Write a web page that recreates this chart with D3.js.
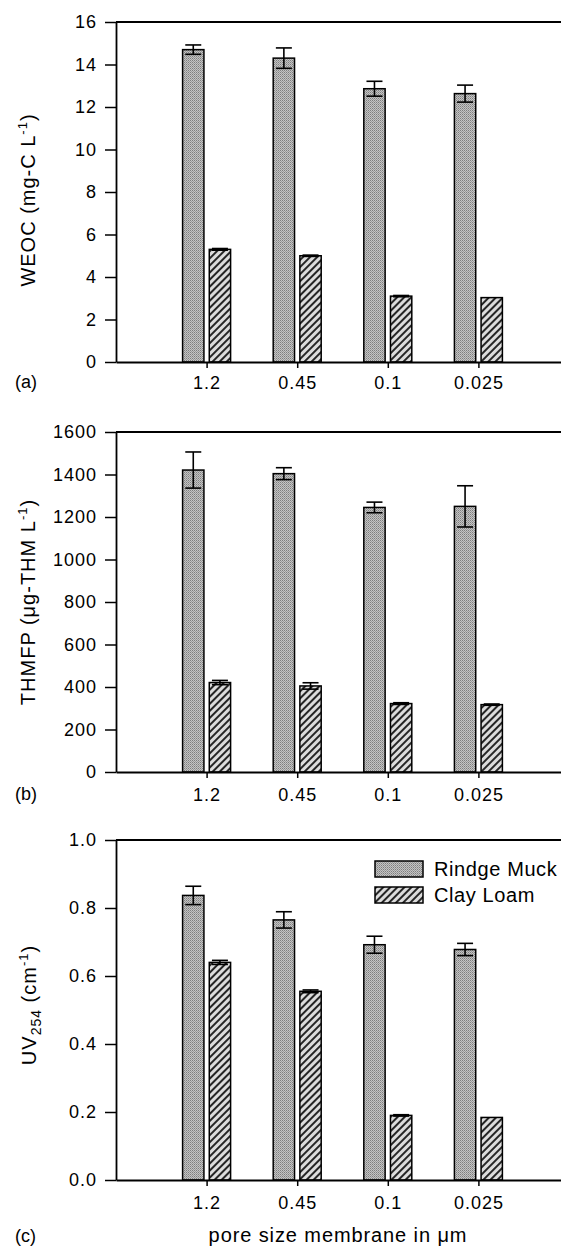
<!DOCTYPE html>
<html><head><meta charset="utf-8">
<script src="https://cdn.jsdelivr.net/npm/d3@7"></script>
<style>body{margin:0;background:#fff}svg{display:block}</style>
</head><body>
<script>
const categories = ["1.2", "0.45", "0.1", "0.025"];
const series = ["Rindge Muck", "Clay Loam"];

const weocRindge = [14.7, 14.3, 12.86, 12.63];
const weocRindgeErr = [0.22, 0.48, 0.35, 0.40];
const weocClay = [5.3, 5.0, 3.1, 3.03];
const weocClayErr = [0.04, 0.03, 0.03, 0.0];

const thmfpRindge = [1421, 1404, 1245, 1250];
const thmfpRindgeErr = [85, 28, 25, 97];
const thmfpClay = [421, 405, 322, 317];
const thmfpClayErr = [10, 15, 4, 3];

const uvRindge = [0.837, 0.765, 0.692, 0.678];
const uvRindgeErr = [0.027, 0.024, 0.025, 0.018];
const uvClay = [0.640, 0.555, 0.190, 0.184];
const uvClayErr = [0.006, 0.004, 0.002, 0.0];

const weocTicks = [0, 2, 4, 6, 8, 10, 12, 14, 16];
const thmfpTicks = [0, 200, 400, 600, 800, 1000, 1200, 1400, 1600];
const uvTicks = [0, 0.2, 0.4, 0.6, 0.8, 1.0];

const W = 561, H = 1248;
const FONT = "'Liberation Sans', Arial, Helvetica, sans-serif";
const svg = d3.select("body").append("svg").attr("width", W).attr("height", H)
  .style("font-family", FONT);

const defs = svg.append("defs");
const dots = defs.append("pattern").attr("id", "dots").attr("patternUnits", "userSpaceOnUse")
  .attr("width", 2).attr("height", 2);
dots.append("rect").attr("width", 2).attr("height", 2).attr("fill", "#c4c4c4");
dots.append("rect").attr("width", 1).attr("height", 1).attr("fill", "#7e7e7e");
dots.append("rect").attr("x", 1).attr("y", 1).attr("width", 1).attr("height", 1).attr("fill", "#9a9a9a");

const hatch = defs.append("pattern").attr("id", "hatch").attr("patternUnits", "userSpaceOnUse")
  .attr("width", 5).attr("height", 5).attr("patternTransform", "rotate(45)");
hatch.append("rect").attr("width", 5).attr("height", 5).attr("fill", "#dcdcdc");
hatch.append("line").attr("x1", 1).attr("x2", 1).attr("y1", 0).attr("y2", 5)
  .attr("stroke", "#111").attr("stroke-width", 1.8);

const fills = { "Rindge Muck": "url(#dots)", "Clay Loam": "url(#hatch)" };

const x = d3.scalePoint().domain(["_l", ...categories, "_r"]).range([116, 569]);
const xs = d3.scaleBand().domain(series).range([-24, 24]).paddingInner(0.2);

function panel(cfg) {
  const g = svg.append("g");
  const y = d3.scaleLinear().domain([0, cfg.max]).range([cfg.top + 340, cfg.top]);

  // bars
  const data = [];
  categories.forEach((c, i) => {
    data.push({ c, s: series[0], v: cfg.r[i], e: cfg.re[i] });
    data.push({ c, s: series[1], v: cfg.cl[i], e: cfg.ce[i] });
  });
  g.selectAll("rect.bar").data(data).join("rect").attr("class", "bar")
    .attr("x", d => x(d.c) + xs(d.s))
    .attr("width", xs.bandwidth())
    .attr("y", d => y(d.v))
    .attr("height", d => y(0) - y(d.v))
    .attr("fill", d => fills[d.s])
    .attr("stroke", "#000").attr("stroke-width", 1.5);

  // error bars
  const eb = g.selectAll("g.err").data(data.filter(d => d.e > 0)).join("g").attr("class", "err")
    .attr("stroke", "#000").attr("stroke-width", 1.6);
  const cx = d => x(d.c) + xs(d.s) + xs.bandwidth() / 2;
  eb.append("line").attr("x1", cx).attr("x2", cx)
    .attr("y1", d => y(d.v + d.e)).attr("y2", d => y(d.v - d.e));
  eb.append("line").attr("x1", d => cx(d) - 8).attr("x2", d => cx(d) + 8)
    .attr("y1", d => y(d.v + d.e)).attr("y2", d => y(d.v + d.e));
  eb.append("line").attr("x1", d => cx(d) - 8).attr("x2", d => cx(d) + 8)
    .attr("y1", d => y(d.v - d.e)).attr("y2", d => y(d.v - d.e));

  // y axis
  const ya = g.append("g").attr("transform", "translate(116,0)")
    .call(d3.axisLeft(y).tickValues(cfg.ticks).tickSize(11).tickSizeOuter(0).tickPadding(8)
      .tickFormat(cfg.fmt));
  // x axis
  const xa = g.append("g").attr("transform", `translate(0,${y(0)})`)
    .call(d3.axisBottom(x).tickValues(categories).tickSize(6).tickSizeOuter(0).tickPadding(cfg.xpad));
  [ya, xa].forEach(a => {
    a.attr("font-family", FONT).attr("font-size", 18);
    a.selectAll("text").attr("fill", "#000").style("letter-spacing", "1px");
    a.selectAll("line").attr("stroke", "#000").attr("stroke-width", 1.5);
    a.select(".domain").attr("stroke", "#000").attr("stroke-width", 1.8);
  });
  // top frame line
  g.append("line").attr("x1", 116).attr("x2", W).attr("y1", y(cfg.max)).attr("y2", y(cfg.max))
    .attr("stroke", "#000").attr("stroke-width", 1.8);

  // panel label
  g.append("text").attr("x", 15).attr("y", cfg.labY).attr("font-size", 18)
    .text(cfg.label);

  // y title
  const t = g.append("text").attr("transform", `translate(${cfg.titleX},${cfg.titleY}) rotate(-90)`)
    .attr("text-anchor", "middle").attr("font-size", 20).style("letter-spacing", "1px");
  cfg.title(t);
  return y;
}

panel({
  top: 22, max: 16, ticks: weocTicks, fmt: d3.format("d"),
  r: weocRindge, re: weocRindgeErr, cl: weocClay, ce: weocClayErr,
  xpad: 8, label: "(a)", labY: 388, titleX: 35, titleY: 200,
  title: t => {
    t.append("tspan").text("WEOC (mg-C L");
    t.append("tspan").attr("dy", -8).attr("font-size", 13).text("-1");
    t.append("tspan").attr("dy", 8).text(")");
  }
});
panel({
  top: 432, max: 1600, ticks: thmfpTicks, fmt: d3.format("d"),
  r: thmfpRindge, re: thmfpRindgeErr, cl: thmfpClay, ce: thmfpClayErr,
  xpad: 10, label: "(b)", labY: 800, titleX: 35, titleY: 602,
  title: t => {
    t.append("tspan").text("THMFP (\u03bcg-THM L");
    t.append("tspan").attr("dy", -8).attr("font-size", 13).text("-1");
    t.append("tspan").attr("dy", 8).text(")");
  }
});
panel({
  top: 840, max: 1.0, ticks: uvTicks, fmt: d3.format(".1f"),
  r: uvRindge, re: uvRindgeErr, cl: uvClay, ce: uvClayErr,
  xpad: 10, label: "(c)", labY: 1242, titleX: 36, titleY: 1005,
  title: t => {
    t.append("tspan").text("UV");
    t.append("tspan").attr("dy", 5).attr("font-size", 14).text("254");
    t.append("tspan").attr("dy", -5).text(" (cm");
    t.append("tspan").attr("dy", -8).attr("font-size", 13).text("-1");
    t.append("tspan").attr("dy", 8).text(")");
  }
});

// x title
svg.append("text").attr("x", 338).attr("y", 1242).attr("text-anchor", "middle")
  .attr("font-size", 20).style("letter-spacing", "0.9px")
  .text("pore size membrane in \u03bcm");

// legend
const leg = svg.append("g").selectAll("g").data(series).join("g")
  .attr("transform", (d, i) => `translate(375,${861 + i * 26})`);
leg.append("rect").attr("width", 48).attr("height", 16)
  .attr("fill", d => fills[d]).attr("stroke", "#000").attr("stroke-width", 1.5);
leg.append("text").attr("x", 59).attr("y", 15).attr("font-size", 20)
  .style("letter-spacing", "0.6px").text(d => d);
</script>
</body></html>
